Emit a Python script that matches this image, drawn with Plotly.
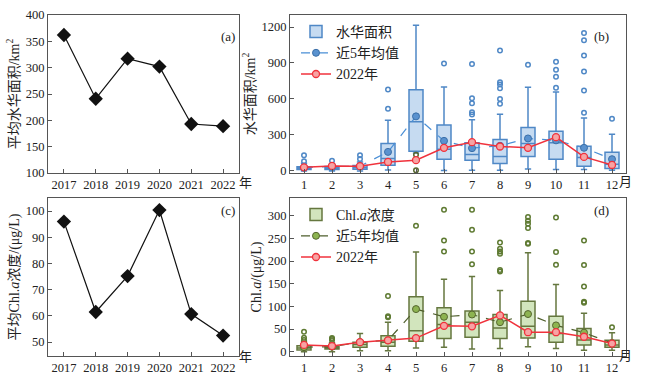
import plotly.graph_objects as go

# ---------------- data ----------------
years = [2017, 2018, 2019, 2020, 2021, 2022]
area_mean_year = [362, 241, 317, 302, 193, 189]
chla_mean_year = [96.0, 61.5, 75.2, 100.4, 60.7, 52.5]

months = list(range(1, 13))

# bloom area (km2) box stats per month
area_q1 = [12, 12, 15, 48, 165, 98, 90, 62, 120, 98, 40, 20]
area_med = [22, 25, 28, 104, 411, 182, 137, 120, 229, 235, 112, 56]
area_q3 = [35, 38, 45, 229, 676, 383, 235, 263, 363, 332, 207, 157]
area_lo = [0, 0, 0, 8, 150, 3, 6, 6, 17, 13, 13, 5]
area_hi = [65, 60, 75, 422, 1214, 700, 427, 472, 698, 659, 441, 305]
area_outliers = [
    [80, 130], [85], [100, 130], [519, 678], [], [896],
    [891, 607, 564, 490, 470], [1005, 740, 720, 690, 600, 560],
    [885], [910, 843, 785, 693], [1151, 1089, 963, 829, 670, 486], [436],
]
area_low_outliers_m5 = [135, 5]
area_5yr = [28, 38, 40, 159, 455, 251, 190, 210, 271, 255, 193, 98]
area_2022 = [30, 42, 40, 75, 90, 193, 240, 204, 193, 282, 117, 50]

# Chl.a (ug/L) box stats per month
chla_q1 = [4, 6, 10, 12, 23, 29, 32, 29, 30, 21, 15, 10]
chla_med = [8, 9, 16, 21, 46, 60, 65, 52, 56, 40, 26, 15]
chla_q3 = [13, 12, 21, 35, 121, 97, 90, 82, 111, 78, 51, 25]
chla_lo = [0, 0, 2, 2, 8, 10, 6, 7, 11, 7, 3, 3]
chla_hi = [23, 20, 40, 65, 220, 160, 166, 135, 218, 148, 85, 42]
chla_outliers = [
    [44, 31, 26], [25, 28, 30], [], [78, 76, 123], [278], [313, 245, 221],
    [313, 269, 221, 193], [241, 227, 221, 216, 180, 177],
    [297, 289, 282, 273, 240, 238], [296, 220, 192], [245, 191, 144, 110, 108], [54],
]
chla_5yr = [10, 11, 21, 25, 94, 77, 82, 65, 83, 58, 42, 19]
chla_2022 = [15, 12.5, 21, 25, 30, 57, 56, 80, 43, 43, 33, 18]

# ---------------- style ----------------
FONT = "Liberation Serif, Noto Sans CJK SC, serif"
AX = "#555555"
BLUE_FILL = "#c6dbf1"
BLUE_LINE = "#4f88c6"
RED = "#f0323c"
GREEN_FILL = "#d2e5bd"
GREEN_LINE = "#65773f"
GREEN_MK = "#8db451"

fig = go.Figure()

# (a)
fig.add_trace(go.Scatter(x=years, y=area_mean_year, mode="lines+markers",
                         line=dict(color="#111", width=1.2),
                         marker=dict(symbol="diamond", size=11, color="#111"),
                         xaxis="x", yaxis="y", showlegend=False))
# (c)
fig.add_trace(go.Scatter(x=years, y=chla_mean_year, mode="lines+markers",
                         line=dict(color="#111", width=1.2),
                         marker=dict(symbol="diamond", size=11, color="#111"),
                         xaxis="x3", yaxis="y3", showlegend=False))

# (b) boxes
fig.add_trace(go.Box(x=months, q1=area_q1, median=area_med, q3=area_q3,
                     lowerfence=area_lo, upperfence=area_hi, width=0.5,
                     whiskerwidth=0.45, boxpoints=False,
                     fillcolor=BLUE_FILL, line=dict(color=BLUE_LINE, width=1.5),
                     name="水华面积", xaxis="x2", yaxis="y2", legend="legend"))
ox, oy = [], []
for m, outs in zip(months, area_outliers):
    for v in outs:
        ox.append(m)
        oy.append(v)
fig.add_trace(go.Scatter(x=ox, y=oy, mode="markers",
                         marker=dict(symbol="circle-open", size=4.5, color=BLUE_LINE, line=dict(width=1.5)),
                         xaxis="x2", yaxis="y2", showlegend=False))
fig.add_trace(go.Scatter(x=[5] * len(area_low_outliers_m5), y=area_low_outliers_m5, mode="markers",
                         marker=dict(symbol="circle-open", size=4.5, color="#55662e", line=dict(width=1.5)),
                         xaxis="x2", yaxis="y2", showlegend=False))
fig.add_trace(go.Scatter(x=months, y=area_5yr, mode="lines+markers", name="近5年均值",
                         line=dict(color="#4a8fd6", width=1.2, dash="dash"),
                         marker=dict(size=7, color="#5a92cf", line=dict(color="#3b6fa8", width=1)),
                         xaxis="x2", yaxis="y2", legend="legend"))
fig.add_trace(go.Scatter(x=months, y=area_2022, mode="lines+markers", name="2022年",
                         line=dict(color=RED, width=1.5),
                         marker=dict(size=7, color="#f7a3a3", line=dict(color=RED, width=1.3)),
                         xaxis="x2", yaxis="y2", legend="legend"))

# (d) boxes
fig.add_trace(go.Box(x=months, q1=chla_q1, median=chla_med, q3=chla_q3,
                     lowerfence=chla_lo, upperfence=chla_hi, width=0.5,
                     whiskerwidth=0.45, boxpoints=False,
                     fillcolor=GREEN_FILL, line=dict(color=GREEN_LINE, width=1.5),
                     name="Chl.<i>a</i>浓度", xaxis="x4", yaxis="y4", legend="legend2"))
ox, oy = [], []
for m, outs in zip(months, chla_outliers):
    for v in outs:
        ox.append(m)
        oy.append(v)
fig.add_trace(go.Scatter(x=ox, y=oy, mode="markers",
                         marker=dict(symbol="circle-open", size=4.5, color="#5e7a32", line=dict(width=1.5)),
                         xaxis="x4", yaxis="y4", showlegend=False))
fig.add_trace(go.Scatter(x=months, y=chla_5yr, mode="lines+markers", name="近5年均值",
                         line=dict(color="#4f5f2c", width=1.2, dash="dash"),
                         marker=dict(size=7, color=GREEN_MK, line=dict(color="#55662e", width=1)),
                         xaxis="x4", yaxis="y4", legend="legend2"))
fig.add_trace(go.Scatter(x=months, y=chla_2022, mode="lines+markers", name="2022年",
                         line=dict(color=RED, width=1.5),
                         marker=dict(size=7, color="#f7a3a3", line=dict(color=RED, width=1.3)),
                         xaxis="x4", yaxis="y4", legend="legend2"))

W, H = 646, 374
def px(x): return x / W
def py(y): return 1 - y / H

axis_common = dict(showline=True, linecolor=AX, linewidth=1.2, mirror=True, automargin=False,
                   ticks="inside", ticklen=4, tickcolor=AX, showgrid=False, zeroline=False,
                   tickfont=dict(family=FONT, size=12.5, color="#222"))
ytitle_font = dict(family=FONT, size=14, color="#222")

fig.update_layout(
    template="none",
    width=W, height=H, margin=dict(l=0, r=0, t=0, b=0, pad=0),
    paper_bgcolor="white", plot_bgcolor="white",
    font=dict(family=FONT, size=13, color="#222"),
    xaxis=dict(domain=[px(48), px(239)], range=[2016.5, 2022.5], tickvals=years, anchor="y", **axis_common),
    yaxis=dict(domain=[py(173), py(15)], range=[100, 400], dtick=50, anchor="x",
               title=dict(text="平均水华面积/km<sup>2</sup>", font=ytitle_font, standoff=2),
               **axis_common),
    xaxis2=dict(domain=[px(290), px(626)], range=[0.5, 12.5], tickvals=months, anchor="y2", **axis_common),
    yaxis2=dict(domain=[py(173), py(15)], range=[-17, 1300], tickvals=[0, 300, 600, 900, 1200], anchor="x2",
                title=dict(text="水华面积/km<sup>2</sup>", font=ytitle_font, standoff=2),
                **axis_common),
    xaxis3=dict(domain=[px(48), px(239)], range=[2016.5, 2022.5], tickvals=years, anchor="y3", **axis_common),
    yaxis3=dict(domain=[py(356), py(198)], range=[44.7, 105], dtick=10, anchor="x3",
                title=dict(text="平均Chl.<i>a</i>浓度/(μg/L)", font=ytitle_font, standoff=2),
                **axis_common),
    xaxis4=dict(domain=[px(290), px(626)], range=[0.5, 12.5], tickvals=months, anchor="y4", **axis_common),
    yaxis4=dict(domain=[py(356), py(198)], range=[-9.5, 339], dtick=50, anchor="x4",
                title=dict(text="Chl.<i>a</i>/(μg/L)", font=ytitle_font, standoff=2),
                **axis_common),
    legend=dict(x=px(296), y=py(16), xanchor="left", yanchor="top", bgcolor="rgba(0,0,0,0)",
                font=dict(family=FONT, size=14), tracegroupgap=0, itemwidth=30),
    legend2=dict(x=px(296), y=py(199), xanchor="left", yanchor="top", bgcolor="rgba(0,0,0,0)",
                 font=dict(family=FONT, size=14), tracegroupgap=0, itemwidth=30),
    showlegend=True,
)

ann = [
    ("(a)", 228, 27), ("(b)", 611, 27), ("(c)", 228, 210), ("(d)", 611, 210),
    ("年", 245, 183), ("月", 634, 182), ("年", 245, 366), ("月", 634, 365),
]
for t, x, y in ann:
    fig.add_annotation(text=t, x=px(x), y=py(y), xref="paper", yref="paper", showarrow=False,
                       font=dict(family=FONT, size=13, color="#222"))

fig.write_html("out.html", config={"displayModeBar": False},
               post_script="document.body.style.margin='0';document.body.style.overflow='hidden';")
